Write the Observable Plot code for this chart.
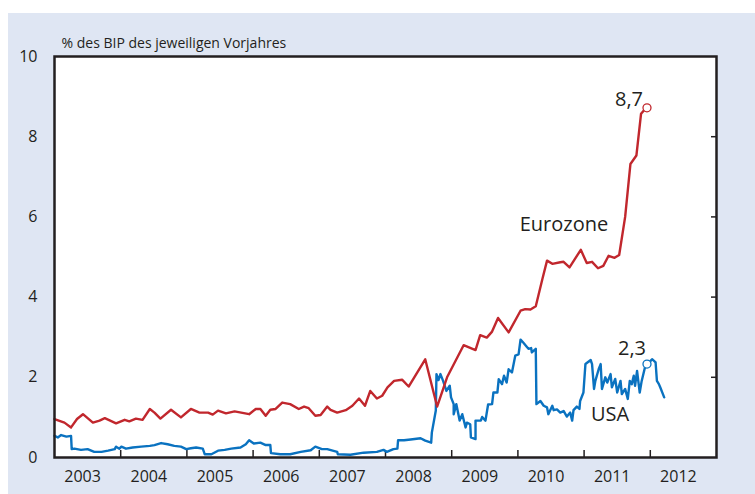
<!DOCTYPE html>
<html><head><meta charset="utf-8">
<script src="https://cdn.jsdelivr.net/npm/d3@7"></script>
<script src="https://cdn.jsdelivr.net/npm/@observablehq/plot@0.6"></script>
<style>
body{margin:0;background:#fff;font-family:"Open Sans",sans-serif;}
#panel{position:absolute;left:8px;top:13px;width:747px;height:481px;background:#dfe6f3;}
#chart{position:absolute;left:0;top:0;}
</style></head><body><div id="panel"></div><div id="chart"></div>
<script>
const title = "% des BIP des jeweiligen Vorjahres";
const yTicks = [0, 2, 4, 6, 8, 10];
const yearTicks = [2004, 2005, 2006, 2007, 2008, 2009, 2010, 2011, 2012];
const yearLabels = [2003, 2004, 2005, 2006, 2007, 2008, 2009, 2010, 2011, 2012];

const euroT = [2003.00,2003.15,2003.25,2003.34,2003.43,2003.58,2003.68,2003.76,2003.93,2004.06,2004.13,2004.23,2004.33,2004.44,2004.51,2004.60,2004.76,2004.91,2005.06,2005.19,2005.32,2005.39,2005.47,2005.59,2005.72,2005.94,2006.04,2006.11,2006.19,2006.26,2006.34,2006.44,2006.56,2006.69,2006.77,2006.84,2006.94,2007.02,2007.12,2007.17,2007.27,2007.40,2007.50,2007.60,2007.69,2007.77,2007.87,2007.95,2008.03,2008.13,2008.25,2008.35,2008.60,2008.78,2008.93,2009.18,2009.36,2009.43,2009.53,2009.61,2009.70,2009.86,2010.04,2010.11,2010.19,2010.27,2010.37,2010.44,2010.52,2010.64,2010.69,2010.78,2010.95,2011.04,2011.12,2011.21,2011.29,2011.37,2011.46,2011.53,2011.62,2011.70,2011.79,2011.86,2011.89,2011.95];
const euroV = [0.96,0.87,0.75,0.96,1.08,0.87,0.92,0.98,0.85,0.94,0.90,0.97,0.94,1.21,1.12,0.97,1.19,1.00,1.21,1.12,1.12,1.07,1.17,1.10,1.15,1.08,1.21,1.21,1.04,1.19,1.21,1.37,1.33,1.21,1.27,1.23,1.04,1.06,1.27,1.19,1.12,1.18,1.29,1.47,1.29,1.66,1.47,1.54,1.75,1.91,1.94,1.77,2.45,1.27,2.00,2.80,2.68,3.05,2.99,3.14,3.48,3.12,3.66,3.70,3.69,3.77,4.45,4.91,4.83,4.87,4.88,4.74,5.18,4.85,4.88,4.72,4.78,5.03,4.98,5.05,6.00,7.32,7.53,8.57,8.63,8.72];

const usT = [2003.00,2003.05,2003.10,2003.18,2003.25,2003.26,2003.30,2003.40,2003.50,2003.60,2003.71,2003.81,2003.91,2003.93,2003.98,2004.01,2004.08,2004.18,2004.31,2004.44,2004.51,2004.61,2004.71,2004.81,2004.91,2004.99,2005.06,2005.14,2005.24,2005.27,2005.37,2005.47,2005.57,2005.67,2005.81,2005.89,2005.94,2006.01,2006.11,2006.19,2006.26,2006.27,2006.41,2006.56,2006.72,2006.87,2006.94,2007.04,2007.12,2007.27,2007.28,2007.47,2007.67,2007.87,2007.97,2008.02,2008.12,2008.18,2008.19,2008.28,2008.38,2008.53,2008.60,2008.69,2008.70,2008.76,2008.77,2008.80,2008.83,2008.87,2008.92,2008.97,2008.99,2009.03,2009.03,2009.07,2009.12,2009.16,2009.21,2009.23,2009.28,2009.29,2009.36,2009.36,2009.44,2009.46,2009.51,2009.55,2009.61,2009.63,2009.69,2009.71,2009.76,2009.79,2009.83,2009.86,2009.91,2009.96,2010.01,2010.04,2010.09,2010.13,2010.16,2010.20,2010.21,2010.27,2010.28,2010.34,2010.39,2010.44,2010.46,2010.52,2010.54,2010.59,2010.64,2010.69,2010.74,2010.79,2010.82,2010.84,2010.89,2010.93,2010.94,2010.99,2011.02,2011.10,2011.12,2011.15,2011.17,2011.22,2011.25,2011.27,2011.32,2011.35,2011.40,2011.42,2011.47,2011.50,2011.55,2011.57,2011.62,2011.66,2011.69,2011.72,2011.75,2011.77,2011.80,2011.84,2011.87,2011.92,2011.95,2012.03,2012.08,2012.10,2012.13,2012.15,2012.21];
const usV = [0.54,0.50,0.56,0.52,0.54,0.21,0.22,0.19,0.21,0.14,0.14,0.17,0.21,0.27,0.22,0.27,0.22,0.25,0.27,0.29,0.31,0.36,0.33,0.29,0.27,0.21,0.23,0.25,0.22,0.08,0.08,0.17,0.19,0.22,0.25,0.33,0.43,0.35,0.37,0.31,0.31,0.11,0.08,0.08,0.14,0.18,0.27,0.21,0.21,0.14,0.08,0.07,0.12,0.14,0.19,0.14,0.21,0.22,0.43,0.43,0.45,0.48,0.42,0.37,0.62,1.17,2.08,1.93,2.08,1.91,1.66,1.79,1.50,1.33,1.08,1.33,0.92,1.08,0.75,0.87,0.83,0.50,0.46,0.92,0.92,1.01,0.92,1.32,1.33,1.62,1.62,1.95,1.83,2.04,1.87,2.20,2.12,2.54,2.57,2.94,2.85,2.77,2.71,2.73,2.62,2.71,1.33,1.41,1.29,1.25,1.08,1.29,1.18,1.20,1.12,1.16,1.02,1.12,0.92,1.18,1.27,1.21,1.41,1.62,2.33,2.43,2.33,1.71,1.91,2.20,2.33,1.71,2.00,1.87,2.08,1.75,1.96,1.62,1.91,1.58,1.71,1.46,1.91,1.83,2.04,1.79,2.16,1.62,1.91,2.25,2.33,2.45,2.37,1.91,1.83,1.75,1.50];

const markT = 2011.95;

const euro = euroT.map((t, i) => ({t, v: euroV[i]}));
const us = usT.map((t, i) => ({t, v: usV[i]}));
const euroEnd = euro.filter(d => d.t === markT);
const usEnd = us.filter(d => d.t === markT);
const fmt = v => d3.format(".1f")(v).replace(".", ",");

const RED = "#c1272d", BLUE = "#0a72c0", INK = "#231f20";

const chart = Plot.plot({
  width: 755, height: 494,
  marginLeft: 54, marginRight: 39, marginTop: 56, marginBottom: 37,
  style: {background: "transparent", fontFamily: "'Open Sans', sans-serif", fontSize: "16px", color: INK, overflow: "visible"},
  x: {type: "linear", domain: [2003, 2013], axis: null, label: null},
  y: {domain: [0, 10], axis: null, label: null},
  marks: [
    Plot.frame({fill: "white"}),
    Plot.axisY(yTicks, {anchor: "left", tickSize: 0, tickPadding: 17, label: null}),
    Plot.axisY(yTicks.slice(1, -1), {anchor: "right", tickSize: -6, tickFormat: () => "", stroke: INK, strokeWidth: 1.5, label: null}),
    Plot.axisX(yearTicks, {anchor: "bottom", tickSize: -7, tickFormat: () => "", stroke: INK, strokeWidth: 1.5, label: null}),
    Plot.axisX(yearLabels.map(y => y + 0.5), {anchor: "bottom", tickSize: 0, tickPadding: 13, dx: -5, tickFormat: d => String(Math.floor(d)), label: null}),
    Plot.line(us, {x: "t", y: "v", stroke: BLUE, strokeWidth: 2.4}),
    Plot.line(euro, {x: "t", y: "v", stroke: RED, strokeWidth: 2.4}),
    Plot.frame({stroke: INK, strokeWidth: 2.5}),
    Plot.dot(euroEnd, {x: "t", y: "v", r: 4, fill: "white", stroke: RED, strokeWidth: 1.3}),
    Plot.dot(usEnd, {x: "t", y: "v", r: 4, fill: "white", stroke: BLUE, strokeWidth: 1.3}),
    Plot.text(euroEnd, {x: "t", y: "v", text: d => fmt(d.v), dx: -18, dy: -8, fontSize: 20, fill: INK}),
    Plot.text(usEnd, {x: "t", y: "v", text: d => fmt(d.v), dx: -15, dy: -15, fontSize: 20, fill: INK}),
    Plot.text(euroEnd, {x: "t", y: "v", text: () => "Eurozone", dx: -83, dy: 117, fontSize: 20, fill: INK}),
    Plot.text(usEnd, {x: "t", y: "v", text: () => "USA", dx: -37, dy: 51, fontSize: 20, fill: INK}),
    Plot.text([title], {frameAnchor: "top-left", dx: 7, dy: -9, textAnchor: "start", lineAnchor: "bottom", fontSize: 14, fill: INK})
  ]
});
document.getElementById("chart").appendChild(chart);
</script>
</body></html>
